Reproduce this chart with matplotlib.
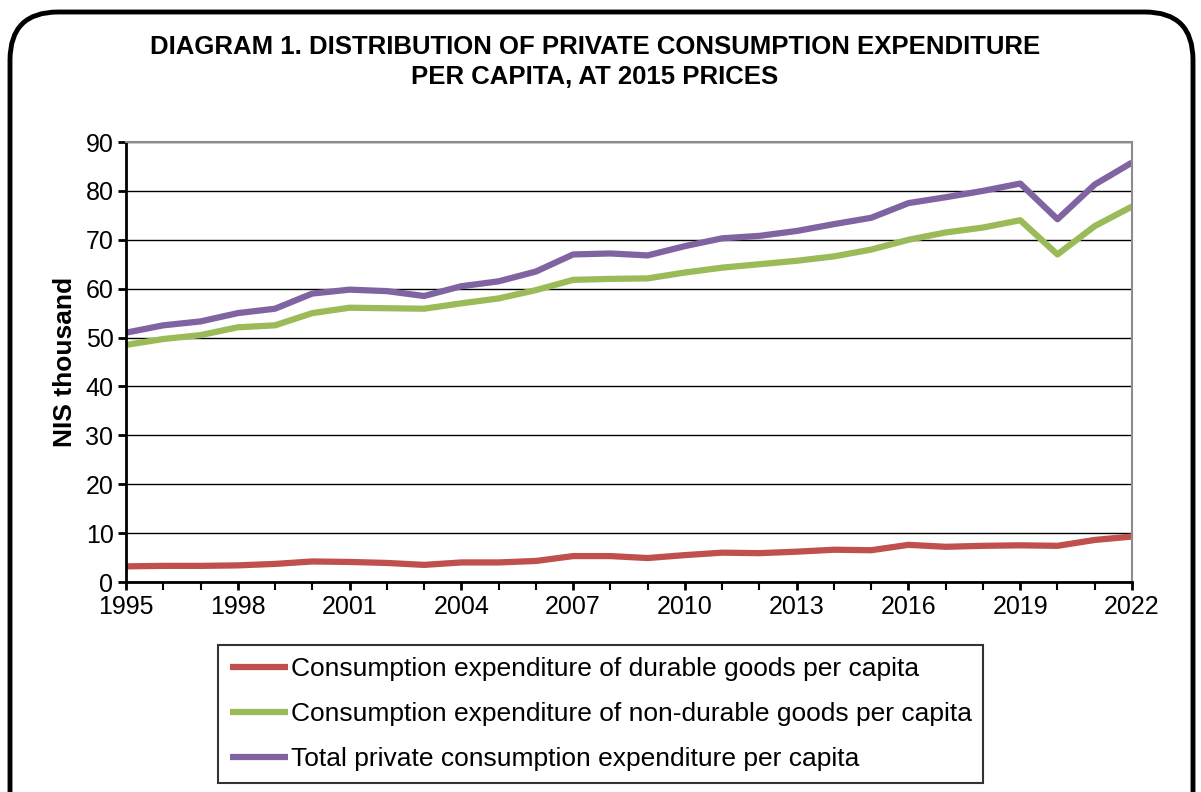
import matplotlib
matplotlib.use('Agg')
import matplotlib.pyplot as plt
from matplotlib.patches import FancyBboxPatch
from matplotlib.ticker import MultipleLocator

plt.rcParams['font.family'] = ['Liberation Sans', 'DejaVu Sans']

years = list(range(1995, 2023))
durable = [3.2, 3.3, 3.3, 3.4, 3.7, 4.2, 4.1, 3.9, 3.5, 4.0, 4.0, 4.3, 5.3, 5.3, 4.9,
           5.5, 6.0, 5.9, 6.2, 6.6, 6.5, 7.6, 7.2, 7.4, 7.5, 7.4, 8.6, 9.3]
non_durable = [48.5, 49.7, 50.5, 52.1, 52.5, 55.0, 56.1, 56.0, 55.9, 57.0, 58.0, 59.7,
               61.8, 62.0, 62.1, 63.3, 64.3, 65.0, 65.7, 66.6, 68.0, 70.0, 71.5, 72.5,
               74.0, 67.0, 72.8, 76.8]
total = [51.0, 52.5, 53.3, 55.0, 55.9, 59.0, 59.8, 59.5, 58.5, 60.5, 61.5, 63.5,
         67.0, 67.2, 66.8, 68.7, 70.3, 70.8, 71.8, 73.2, 74.5, 77.5, 78.7, 80.0,
         81.5, 74.2, 81.3, 85.8]
labels = ['Consumption expenditure of durable goods per capita',
          'Consumption expenditure of non-durable goods per capita',
          'Total private consumption expenditure per capita']
colors = ['#C0504D', '#9BBB59', '#8064A2']

W, H = 1201, 792
fig = plt.figure(figsize=(W / 100, H / 100), dpi=100)

# rounded frame around the whole chart
frame = FancyBboxPatch((10 / W, -0.1), 1183 / W, 1.1 - 12 / H,
                       boxstyle='round,pad=0,rounding_size=0.04',
                       transform=fig.transFigure, fill=False, ec='black', lw=3.5,
                       mutation_aspect=W / H)
fig.patches.append(frame)

ax = fig.add_axes([126 / W, 1 - 582 / H, (1132 - 126) / W, (582 - 142) / H])

for vals, lab, c in zip([durable, non_durable, total], labels, colors):
    ax.plot(years, vals, color=c, lw=4.5, label=lab, solid_capstyle='butt')

ax.set_xlim(1995, 2022)
ax.set_ylim(0, 90)
ax.yaxis.set_major_locator(MultipleLocator(10))
ax.xaxis.set_major_locator(MultipleLocator(3))
ax.xaxis.set_minor_locator(MultipleLocator(1))
ax.grid(axis='y', color='black', lw=1)
ax.set_axisbelow(True)

for s in ['top', 'right']:
    ax.spines[s].set_color('#8C8C8C')
    ax.spines[s].set_linewidth(1.5)
for s in ['left', 'bottom']:
    ax.spines[s].set_color('black')
    ax.spines[s].set_linewidth(2)

ax.tick_params(axis='both', direction='out', labelsize=18, width=2, length=6, pad=3)
ax.tick_params(axis='x', which='minor', direction='out', width=1.5, length=6)
ax.set_ylabel('NIS thousand', fontsize=19, fontweight='bold', labelpad=6)

fig.text(595 / W, 1 - 47 / H, 'DIAGRAM 1. DISTRIBUTION OF PRIVATE CONSUMPTION EXPENDITURE',
         ha='center', va='center', fontsize=18.5, fontweight='bold')
fig.text(595 / W, 1 - 77 / H, 'PER CAPITA, AT 2015 PRICES',
         ha='center', va='center', fontsize=18.5, fontweight='bold')

leg = ax.legend(loc='upper left', bbox_to_anchor=(218 / W, 1 - 645 / H),
                bbox_transform=fig.transFigure, fontsize=19, frameon=True,
                fancybox=False, edgecolor='black', handlelength=2.2,
                handletextpad=0.1, labelspacing=0.8, borderpad=0.45,
                borderaxespad=0)
leg.get_frame().set_linewidth(1.5)

fig.savefig('out.png', dpi=100)
